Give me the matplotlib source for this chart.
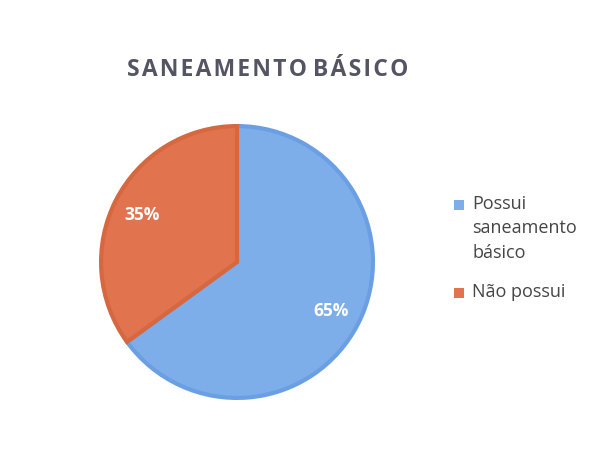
import matplotlib.pyplot as plt
from matplotlib.patches import Rectangle

# dados do gráfico
categorias = ["Possui\nsaneamento\nbásico", "Não possui"]
valores = [65, 35]
cores = ["#7eaeea", "#e2734f"]
bordas = ["#6b9fe3", "#d6673f"]
titulo = "SANEAMENTO BÁSICO"

fig = plt.figure(figsize=(6.03, 4.52), dpi=100)
fig.patch.set_facecolor("white")

# eixo da pizza: centro (237, 263) px, raio 140 px
W, H = 603, 452
cx, cy, r = 237, 263, 140
ax = fig.add_axes([(cx - r) / W, (H - cy - r) / H, 2 * r / W, 2 * r / H])

wedges, texts, autotexts = ax.pie(
    valores, colors=cores, startangle=90, counterclock=False,
    autopct="%d%%", pctdistance=0.78,
    wedgeprops=dict(linewidth=3),
    textprops=dict(color="white", fontsize=12.5, fontweight="bold",
                   family="Open Sans"),
)
for w, b in zip(wedges, bordas):
    w.set_edgecolor(b)
ax.set_xlim(-1.03, 1.03)
ax.set_ylim(-1.03, 1.03)
ax.set_aspect("equal")

# titulo com espaçamento entre letras (hair space)
espacado = "\u200a".join(titulo).replace("\u200a \u200a", " ")
fig.text(268 / W, 1 - 70 / H, espacado, ha="center", va="center",
         fontsize=16.5, fontweight="bold", color="#545463",
         family=["Open Sans", "DejaVu Sans"])

# legenda desenhada à mão (quadrado alinhado com a primeira linha)
y_leg = [206, 294]
for cat, cor, y in zip(categorias, cores, y_leg):
    fig.add_artist(Rectangle(((454) / W, 1 - (y + 5) / H), 10 / W, 10 / H,
                             facecolor=cor, edgecolor="none",
                             transform=fig.transFigure))
    fig.text(472 / W, 1 - (y - 11) / H, cat, ha="left", va="top",
             fontsize=13, color="#454545", linespacing=1.45,
             family="Open Sans")

fig.savefig("out.png", dpi=100)
